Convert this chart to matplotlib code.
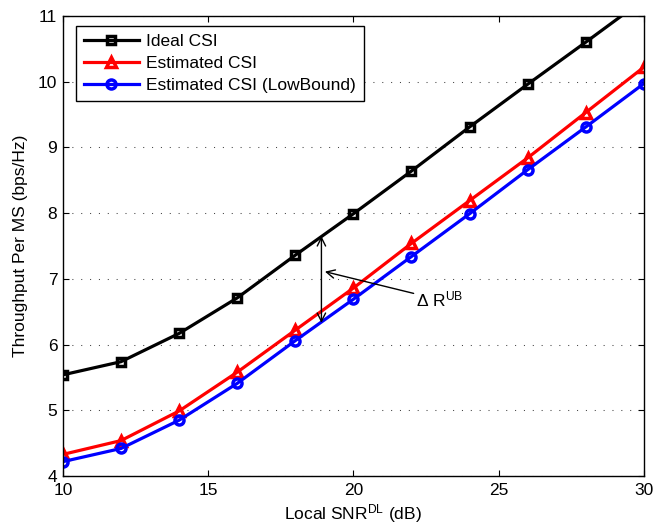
import matplotlib
matplotlib.use("Agg")
import matplotlib.pyplot as plt

plt.rcParams['font.family'] = ['Liberation Sans', 'DejaVu Sans']
plt.rcParams['mathtext.default'] = 'regular'

snr = [10, 12, 14, 16, 18, 20, 22, 24, 26, 28, 30]
ideal = [5.54, 5.74, 6.17, 6.71, 7.36, 7.99, 8.64, 9.31, 9.96, 10.6, 11.25]
est = [4.33, 4.54, 4.99, 5.58, 6.22, 6.86, 7.54, 8.19, 8.84, 9.53, 10.22]
lowb = [4.22, 4.42, 4.85, 5.41, 6.06, 6.69, 7.34, 7.99, 8.66, 9.31, 9.97]

fs = 12.5

fig = plt.figure(figsize=(6.55, 5.29), dpi=100)
ax = fig.add_axes([0.096, 0.100, 0.887, 0.870])

ax.plot(snr, ideal, '-s', color='black', lw=2.3, ms=5.5, mfc='none', mew=2.5, label='Ideal CSI')
ax.plot(snr, est, '-^', color='red', lw=2.3, ms=7.5, mfc='none', mew=2.5, label='Estimated CSI')
ax.plot(snr, lowb, '-o', color='blue', lw=2.3, ms=6.5, mfc='none', mew=2.5,
        label='Estimated CSI (LowBound)')

# gap between ideal and estimated
ax.annotate('', xy=(18.9, 7.65), xytext=(18.9, 6.33),
            arrowprops=dict(arrowstyle='<->', color='black', lw=1, mutation_scale=15,
                            shrinkA=0, shrinkB=0))
ax.annotate('$\\Delta$ R$^{UB}$', xy=(19.02, 7.11), xytext=(22.17, 6.68),
            fontsize=fs, va='center', ha='left',
            arrowprops=dict(arrowstyle='->', color='black', lw=1, mutation_scale=15,
                            shrinkA=0, shrinkB=0))

ax.set_xlim(10, 30)
ax.set_ylim(4, 11)
ax.set_xticks([10, 15, 20, 25, 30])
ax.set_yticks([4, 5, 6, 7, 8, 9, 10, 11])
ax.yaxis.grid(True, linestyle=(0, (1, 7.5)), color='#444444', lw=0.75)
ax.tick_params(axis='both', direction='in', top=True, right=True, labelsize=fs, length=4)
ax.tick_params(axis='x', pad=5)
ax.tick_params(axis='y', pad=4)
for s in ax.spines.values():
    s.set_linewidth(1)

ax.set_xlabel('Local SNR$^{DL}$ (dB)', fontsize=fs, labelpad=3)
ax.set_ylabel('Throughput Per MS (bps/Hz)', fontsize=fs, labelpad=7)

leg = ax.legend(loc='upper left', bbox_to_anchor=(0.0224, 0.978), borderaxespad=0,
                fontsize=fs, handlelength=3.2, fancybox=False, edgecolor='black',
                framealpha=1, borderpad=0.45, labelspacing=0.4, handletextpad=0.4)
leg.get_frame().set_linewidth(1)

fig.savefig('out.png', dpi=100)
